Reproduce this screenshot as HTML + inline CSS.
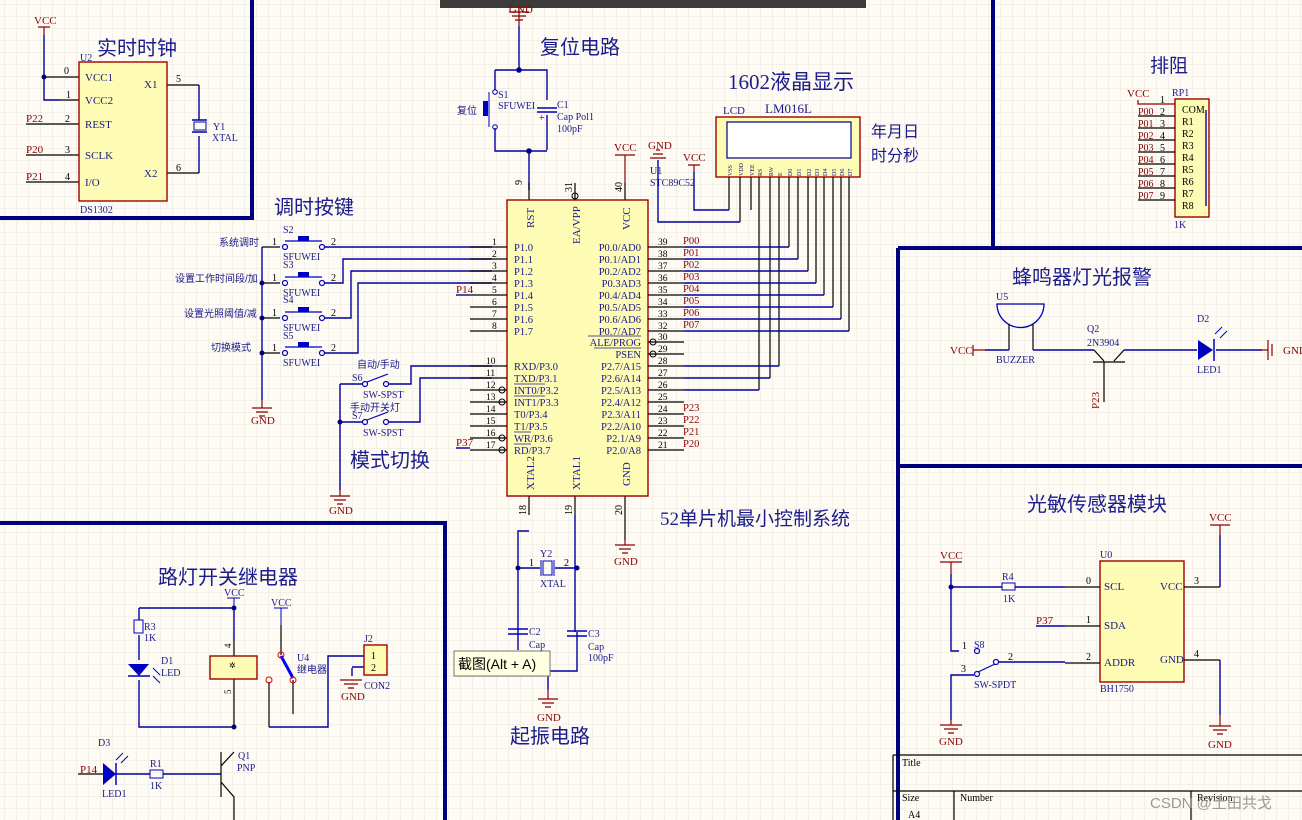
<!DOCTYPE html>
<html><head><meta charset="utf-8"><style>
html,body{margin:0;padding:0;background:#fdfbf4;}
svg{display:block;font-family:"Liberation Serif","Noto Serif CJK SC",serif;}
.t{fill:#1a1a8a;font-size:11px}
.s{fill:#1a1a8a;font-size:10px}
.r{fill:#8b0000;font-size:11px}
.h{fill:#1c1c8c;font-size:20px;font-family:"Liberation Serif","Noto Sans CJK SC",sans-serif}
.c{fill:#1a1a8a;font-size:10px;font-family:"Liberation Sans","Noto Sans CJK SC",sans-serif}
.k{fill:#000;font-size:10px}
.w{stroke:#0000a0;stroke-width:1.4;fill:none}
.b{stroke:#000;stroke-width:1.2;fill:none}
.p{stroke:#8b0000;stroke-width:1.2;fill:none}
.f{stroke:#00007f;stroke-width:4;fill:none}
.box{fill:#fdfbb4;stroke:#a00000;stroke-width:1.4}
</style></head><body>
<svg width="1302" height="820" viewBox="0 0 1302 820" xmlns="http://www.w3.org/2000/svg">
<defs>
<pattern id="g" x="5" y="5" width="12" height="12" patternUnits="userSpaceOnUse">
<path d="M12 0V12M0 12H12" stroke="#e6e4dc" stroke-width="1" fill="none"/></pattern>
</defs>
<rect width="1302" height="820" fill="#fdfbf4"/>
<rect width="1302" height="820" fill="url(#g)"/>
<rect x="440" y="0" width="426" height="8" fill="#3b3b3b"/>

<!-- frames -->
<path class="f" d="M252 0V218H0"/>
<path class="f" d="M993 0V248M898 248H1302M898 248V820M898 466H1302"/>
<path class="f" d="M0 523H445V820"/>
<path d="M893 755H1302M893 791H1302M893 755V820M954 791V820M1191 791V820" stroke="#000" stroke-width="1.2" fill="none"/>
<text x="902" y="766" class="k">Title</text><text x="902" y="801" class="k">Size</text>
<text x="908" y="818" class="k">A4</text><text x="960" y="801" class="k">Number</text>
<text x="1197" y="801" class="k">Revision</text>
<text x="1150" y="808" fill="#999" style="font-size:15px;font-family:'Liberation Sans','Noto Sans CJK SC',sans-serif">CSDN @土田共戈</text>

<!-- DS1302 -->
<text x="97" y="55" class="h">实时时钟</text>
<text x="34" y="24" class="r">VCC</text><path class="p" d="M38 27H50M44 27V35"/>
<path class="w" d="M44 35V100H60"/><circle cx="44" cy="77" r="2.5" fill="#00008b"/>
<path class="b" d="M44 77H79M60 100H79M26 124H79M26 155H79M26 182H79M167 85H199M167 173H199"/>
<path class="w" d="M199 85V120M199 136V173"/>
<rect x="194" y="122" width="12" height="8" fill="none" stroke="#0000a0"/><path class="w" d="M192 120H207M192 132H207"/>
<rect x="79" y="62" width="88" height="139" class="box"/>
<text x="80" y="61" class="s">U2</text><text x="80" y="213" class="s">DS1302</text>
<text x="85" y="81" class="t">VCC1</text><text x="85" y="104" class="t">VCC2</text><text x="85" y="128" class="t">REST</text><text x="85" y="159" class="t">SCLK</text><text x="85" y="186" class="t">I/O</text>
<text x="144" y="88" class="t">X1</text><text x="144" y="177" class="t">X2</text>
<text x="64" y="74" class="k">0</text><text x="66" y="98" class="k">1</text><text x="65" y="122" class="k">2</text><text x="65" y="153" class="k">3</text><text x="65" y="180" class="k">4</text>
<text x="176" y="82" class="k">5</text><text x="176" y="171" class="k">6</text>
<text x="26" y="122" class="r">P22</text><text x="26" y="153" class="r">P20</text><text x="26" y="180" class="r">P21</text>
<text x="213" y="130" class="s">Y1</text><text x="212" y="141" class="s">XTAL</text>

<!-- buttons -->
<text x="274" y="214" class="h">调时按键</text>
<path class="w" d="M262 247V400"/>
<g fill="#00008b"><circle cx="262" cy="283" r="2.5"/><circle cx="262" cy="318" r="2.5"/><circle cx="262" cy="353" r="2.5"/></g>
<path class="b" d="M262 247H280M262 283H280M262 318H280M262 353H280"/>
<g fill="none" stroke="#0000c0" stroke-width="1.2">
<circle cx="285" cy="247" r="2.5"/><circle cx="322" cy="247" r="2.5"/>
<circle cx="285" cy="283" r="2.5"/><circle cx="322" cy="283" r="2.5"/>
<circle cx="285" cy="318" r="2.5"/><circle cx="322" cy="318" r="2.5"/>
<circle cx="285" cy="353" r="2.5"/><circle cx="322" cy="353" r="2.5"/>
<path d="M285 241H322M285 277H322M285 312H322M285 347H322"/></g>
<g fill="#0000c0"><rect x="298" y="236" width="11" height="5"/><rect x="298" y="272" width="11" height="5"/><rect x="298" y="307" width="11" height="5"/><rect x="298" y="342" width="11" height="5"/></g>
<text x="283" y="233" class="s">S2</text><text x="283" y="260" class="s">SFUWEI</text>
<text x="283" y="268" class="s">S3</text><text x="283" y="296" class="s">SFUWEI</text>
<text x="283" y="303" class="s">S4</text><text x="283" y="331" class="s">SFUWEI</text>
<text x="283" y="339" class="s">S5</text><text x="283" y="366" class="s">SFUWEI</text>
<text x="272" y="245" class="k">1</text><text x="272" y="281" class="k">1</text><text x="272" y="316" class="k">1</text><text x="272" y="351" class="k">1</text>
<text x="331" y="245" class="k">2</text><text x="331" y="281" class="k">2</text><text x="331" y="316" class="k">2</text><text x="331" y="351" class="k">2</text>
<text x="219" y="246" class="c">系统调时</text><text x="175" y="282" class="c">设置工作时间段/加</text><text x="184" y="317" class="c">设置光照阈值/减</text><text x="211" y="351" class="c">切换模式</text>
<path class="w" d="M325 247H492M325 283H343V259H492M325 318H351V271H492M325 353H358V283H492"/>
<path class="p" d="M262 400V408M252 408H272M256 412H268M259 416H265"/><text x="251" y="424" class="r">GND</text>

<!-- mode switches -->
<path class="w" d="M340 384V490M340 384H362M340 422H362"/><circle cx="340" cy="422" r="2.5" fill="#00008b"/>
<g fill="none" stroke="#0000c0" stroke-width="1.2"><circle cx="365" cy="384" r="2.5"/><circle cx="386" cy="384" r="2.5"/><circle cx="365" cy="422" r="2.5"/><circle cx="386" cy="422" r="2.5"/><path d="M367 382L388 374M367 420L388 412"/></g>
<path class="w" d="M389 384H411V366H492M389 422H420V378H492"/>
<text x="352" y="381" class="s">S6</text><text x="363" y="398" class="s">SW-SPST</text><text x="357" y="368" class="c">自动/手动</text>
<text x="352" y="419" class="s">S7</text><text x="363" y="436" class="s">SW-SPST</text><text x="350" y="411" class="c">手动开关灯</text>
<text x="350" y="467" class="h">模式切换</text>
<path class="p" d="M340 490V496M330 496H350M334 500H346M337 504H343"/><text x="329" y="514" class="r">GND</text>

<!-- reset -->
<path class="p" d="M519 8V26M509 12H529M512 16H526M515 20H523"/><text x="509" y="13" class="r">GND</text>
<text x="540" y="54" class="h">复位电路</text>
<path class="w" d="M519 26V70M495 70H547V100M547 115V150M495 70V90M495 128V151H547M529 151V190"/>
<circle cx="519" cy="70" r="2.8" fill="#00008b"/><circle cx="529" cy="151" r="2.8" fill="#00008b"/>
<path d="M537 108H557M537 112H557" stroke="#0000c0" stroke-width="1.4"/>
<rect x="483" y="101" width="5" height="15" fill="#0000c0"/><path d="M489 92V127" stroke="#0000c0"/>
<g fill="none" stroke="#0000c0"><circle cx="495" cy="92" r="2.3"/><circle cx="495" cy="127" r="2.3"/></g>
<text x="498" y="98" class="s">S1</text><text x="498" y="109" class="s">SFUWEI</text><text x="457" y="114" class="c">复位</text>
<text x="557" y="108" class="s">C1</text><text x="557" y="120" class="s">Cap Pol1</text><text x="557" y="132" class="s">100pF</text>
<text x="539" y="121" fill="#0000c0" style="font-size:10px">+</text>

<!-- MCU -->
<path class="p" d="M625 155V183M615 155H635"/><text x="614" y="151" class="r">VCC</text>
<path class="b" d="M529 183V200M575 183V200M625 183V200M529 496V515M575 496V515M625 496V540"/>
<rect x="507" y="200" width="141" height="296" class="box"/>
<text x="522" y="185" class="k" transform="rotate(-90 522 185)">9</text>
<text x="572" y="192" class="k" transform="rotate(-90 572 192)">31</text>
<text x="622" y="192" class="k" transform="rotate(-90 622 192)">40</text>
<text x="526" y="515" class="k" transform="rotate(-90 526 515)">18</text>
<text x="572" y="515" class="k" transform="rotate(-90 572 515)">19</text>
<text x="622" y="515" class="k" transform="rotate(-90 622 515)">20</text>
<g class="t">
<text x="534" y="228" transform="rotate(-90 534 228)">RST</text>
<text x="580" y="244" transform="rotate(-90 580 244)">EA/VPP</text>
<text x="630" y="230" transform="rotate(-90 630 230)">VCC</text>
<text x="534" y="490" transform="rotate(-90 534 490)">XTAL2</text>
<text x="580" y="490" transform="rotate(-90 580 490)">XTAL1</text>
<text x="630" y="486" transform="rotate(-90 630 486)">GND</text>
</g>
<g fill="#1a1a8a" style="font-size:10.5px">
<text x="514" y="251">P1.0</text><text x="514" y="263">P1.1</text><text x="514" y="275">P1.2</text><text x="514" y="287">P1.3</text><text x="514" y="299">P1.4</text><text x="514" y="311">P1.5</text><text x="514" y="323">P1.6</text><text x="514" y="335">P1.7</text>
<text x="514" y="370">RXD/P3.0</text><text x="514" y="382">TXD/P3.1</text><text x="514" y="394">INT0/P3.2</text><text x="514" y="406">INT1/P3.3</text><text x="514" y="418">T0/P3.4</text><text x="514" y="430">T1/P3.5</text><text x="514" y="442">WR/P3.6</text><text x="514" y="454">RD/P3.7</text>
<g text-anchor="end">
<text x="641" y="251">P0.0/AD0</text><text x="641" y="263">P0.1/AD1</text><text x="641" y="275">P0.2/AD2</text><text x="641" y="287">P0.3AD3</text><text x="641" y="299">P0.4/AD4</text><text x="641" y="311">P0.5/AD5</text><text x="641" y="323">P0.6/AD6</text><text x="641" y="335">P0.7/AD7</text>
<text x="641" y="346">ALE/PROG</text><text x="641" y="358">PSEN</text>
<text x="641" y="370">P2.7/A15</text><text x="641" y="382">P2.6/A14</text><text x="641" y="394">P2.5/A13</text><text x="641" y="406">P2.4/A12</text><text x="641" y="418">P2.3/A11</text><text x="641" y="430">P2.2/A10</text><text x="641" y="442">P2.1/A9</text><text x="641" y="454">P2.0/A8</text>
</g></g>
<path d="M514 384H545M514 396H545M514 432H531M514 444H531M588 336H641M594 348H641" stroke="#1a1a8a" stroke-width="0.8"/>
<path class="b" d="M470 247H507M470 259H507M470 271H507M470 283H507M470 295H507M470 307H507M470 319H507M470 331H507M470 366H507M470 378H507M470 390H507M470 402H507M470 414H507M470 426H507M470 438H507M470 450H507"/>
<path class="b" d="M648 247H684M648 259H684M648 271H684M648 283H684M648 295H684M648 307H684M648 319H684M648 331H684M648 342H684M648 354H684M648 366H684M648 378H684M648 390H684M648 402H684M648 414H684M648 426H684M648 438H684M648 450H684"/>
<g fill="none" stroke="#000" stroke-width="1"><circle cx="502" cy="390" r="3"/><circle cx="502" cy="402" r="3"/><circle cx="502" cy="438" r="3"/><circle cx="502" cy="450" r="3"/><circle cx="653" cy="342" r="3"/><circle cx="653" cy="354" r="3"/><circle cx="575" cy="196" r="3"/></g>
<g fill="#000" style="font-size:9.5px"><text x="492" y="245">1</text><text x="492" y="257">2</text><text x="492" y="269">3</text><text x="492" y="281">4</text><text x="492" y="293">5</text><text x="492" y="305">6</text><text x="492" y="317">7</text><text x="492" y="329">8</text>
<text x="486" y="364">10</text><text x="486" y="376">11</text><text x="486" y="388">12</text><text x="486" y="400">13</text><text x="486" y="412">14</text><text x="486" y="424">15</text><text x="486" y="436">16</text><text x="486" y="448">17</text>
<text x="658" y="245">39</text><text x="658" y="257">38</text><text x="658" y="269">37</text><text x="658" y="281">36</text><text x="658" y="293">35</text><text x="658" y="305">34</text><text x="658" y="317">33</text><text x="658" y="329">32</text><text x="658" y="340">30</text><text x="658" y="352">29</text><text x="658" y="364">28</text><text x="658" y="376">27</text><text x="658" y="388">26</text><text x="658" y="400">25</text><text x="658" y="412">24</text><text x="658" y="424">23</text><text x="658" y="436">22</text><text x="658" y="448">21</text></g>
<text x="456" y="293" class="r">P14</text><path class="w" d="M456 295H470"/>
<text x="456" y="446" class="r">P37</text><path class="w" d="M456 448H470"/>
<g fill="#8b0000" style="font-size:10.5px"><text x="683" y="244">P00</text><text x="683" y="256">P01</text><text x="683" y="268">P02</text><text x="683" y="280">P03</text><text x="683" y="292">P04</text><text x="683" y="304">P05</text><text x="683" y="316">P06</text><text x="683" y="328">P07</text>
<text x="683" y="411">P23</text><text x="683" y="423">P22</text><text x="683" y="435">P21</text><text x="683" y="447">P20</text></g>
<text x="650" y="174" class="s">U1</text><text x="650" y="186" class="s">STC89C52</text>
<text x="660" y="525" class="h" style="font-size:19px">52单片机最小控制系统</text>

<!-- LCD -->
<text x="728" y="89" class="h" style="font-size:21px">1602液晶显示</text>
<text x="723" y="114" class="s" style="font-size:11px">LCD</text><text x="765" y="113" class="t" style="font-size:13px">LM016L</text>
<rect x="716" y="117" width="144" height="60" class="box"/>
<rect x="727" y="122" width="124" height="36" fill="#fff" stroke="#00008b" stroke-width="1.2"/>
<g fill="#1a1a8a" style="font-size:6px"><text x="732" y="176" transform="rotate(-90 732 176)">VSS</text><text x="743" y="176" transform="rotate(-90 743 176)">VDD</text><text x="754" y="176" transform="rotate(-90 754 176)">VEE</text><text x="762" y="176" transform="rotate(-90 762 176)">RS</text><text x="773" y="176" transform="rotate(-90 773 176)">RW</text><text x="782" y="176" transform="rotate(-90 782 176)">E</text><text x="792" y="176" transform="rotate(-90 792 176)">D0</text><text x="801" y="176" transform="rotate(-90 801 176)">D1</text><text x="811" y="176" transform="rotate(-90 811 176)">D2</text><text x="819" y="176" transform="rotate(-90 819 176)">D3</text><text x="827" y="176" transform="rotate(-90 827 176)">D4</text><text x="836" y="176" transform="rotate(-90 836 176)">D5</text><text x="844" y="176" transform="rotate(-90 844 176)">D6</text><text x="852" y="176" transform="rotate(-90 852 176)">D7</text></g>
<path class="b" d="M729 177V210M740 177V222M751 177V210M759 177V390M770 177V378M779 177V366M789 177V247M798 177V259M808 177V271M816 177V283M824 177V295M833 177V307M841 177V319M849 177V331"/>
<path class="w" d="M684 247H789M684 259H798M684 271H808M684 283H816M684 295H824M684 307H833M684 319H841M684 331H849M684 366H779M684 378H770M684 390H759"/>
<path class="w" d="M694 172V210H729M658 160V222H740"/>
<path class="p" d="M688 165H700M694 165V172M650 158H666M653 154H663M656 150H660"/>
<text x="683" y="161" class="r">VCC</text><text x="648" y="149" class="r">GND</text>
<text x="871" y="137" class="c" style="font-size:16px">年月日</text><text x="871" y="161" class="c" style="font-size:16px">时分秒</text>

<!-- RP1 -->
<text x="1150" y="72" class="h" style="font-size:19px">排阻</text>
<text x="1127" y="97" class="r">VCC</text><path class="p" d="M1138 100V104H1175"/>
<text x="1172" y="96" class="s">RP1</text><text x="1174" y="228" class="s">1K</text>
<rect x="1175" y="99" width="34" height="118" class="box"/>
<path class="b" d="M1138 116H1175M1138 128H1175M1138 140H1175M1138 152H1175M1138 164H1175M1138 176H1175M1138 188H1175M1138 200H1175"/>
<g fill="#000" style="font-size:10px"><text x="1160" y="103">1</text><text x="1160" y="115">2</text><text x="1160" y="127">3</text><text x="1160" y="139">4</text><text x="1160" y="151">5</text><text x="1160" y="163">6</text><text x="1160" y="175">7</text><text x="1160" y="187">8</text><text x="1160" y="199">9</text></g>
<g fill="#8b0000" style="font-size:10px"><text x="1138" y="115">P00</text><text x="1138" y="127">P01</text><text x="1138" y="139">P02</text><text x="1138" y="151">P03</text><text x="1138" y="163">P04</text><text x="1138" y="175">P05</text><text x="1138" y="187">P06</text><text x="1138" y="199">P07</text></g>
<g fill="#000" style="font-size:10px"><text x="1182" y="113">COM</text><text x="1182" y="125">R1</text><text x="1182" y="137">R2</text><text x="1182" y="149">R3</text><text x="1182" y="161">R4</text><text x="1182" y="173">R5</text><text x="1182" y="185">R6</text><text x="1182" y="197">R7</text><text x="1182" y="209">R8</text></g>
<path d="M1206 110V206" stroke="#0000c0" stroke-width="1.4"/>

<!-- buzzer -->
<text x="1012" y="284" class="h" style="font-size:20px">蜂鸣器灯光报警</text>
<text x="996" y="300" class="s">U5</text>
<path d="M997 304H1044A23 23 0 0 1 997 304Z" fill="none" stroke="#0000c0" stroke-width="1.3"/>
<path class="b" d="M1009 324V350M1033 324V350"/>
<text x="950" y="354" class="r">VCC</text><path class="p" d="M973 345V356M973 350H985"/>
<path class="w" d="M985 350H1009M1033 350H1094"/>
<text x="996" y="363" class="s">BUZZER</text>
<text x="1087" y="332" class="s">Q2</text><text x="1087" y="346" class="s">2N3904</text>
<path class="b" d="M1094 350L1104 361M1114 361L1124 350M1093 362H1125M1104 362V402"/>
<path class="w" d="M1124 350H1197M1216 350H1262"/>
<path d="M1198 340V360L1213 350Z" fill="#0000c0"/><path d="M1214 339V361" stroke="#0000c0" stroke-width="1.5"/>
<path d="M1215 334L1222 327M1220 338L1227 331" stroke="#0000c0"/>
<text x="1197" y="322" class="s">D2</text><text x="1197" y="373" class="s">LED1</text>
<path class="p" d="M1262 350H1268M1268 340V360M1272 344V356"/><text x="1283" y="354" class="r">GND</text>
<text x="1099" y="409" class="r" transform="rotate(-90 1099 409)">P23</text>

<!-- light sensor -->
<text x="1027" y="511" class="h" style="font-size:20px">光敏传感器模块</text>
<text x="1100" y="558" class="s">U0</text>
<rect x="1100" y="561" width="84" height="121" class="box"/>
<text x="1104" y="590" class="t">SCL</text><text x="1104" y="629" class="t">SDA</text><text x="1104" y="666" class="t">ADDR</text>
<text x="1160" y="590" class="t">VCC</text><text x="1160" y="663" class="t">GND</text>
<text x="1100" y="692" class="s">BH1750</text>
<text x="940" y="559" class="r">VCC</text><path class="p" d="M940 562H962M951 562V574"/>
<path class="w" d="M951 574V651H959M951 587H1002M1015 587H1065"/><circle cx="951" cy="587" r="2.5" fill="#00008b"/>
<rect x="1002" y="583" width="13" height="7" fill="none" stroke="#0000c0"/>
<text x="1002" y="580" class="s">R4</text><text x="1003" y="602" class="s">1K</text>
<path class="b" d="M1065 587H1100M1065 626H1100M1065 663H1100M1184 587H1220M1184 660H1220"/>
<text x="1086" y="584" class="k">0</text><text x="1086" y="623" class="k">1</text><text x="1086" y="660" class="k">2</text><text x="1194" y="584" class="k">3</text><text x="1194" y="657" class="k">4</text>
<text x="1036" y="624" class="r">P37</text><path class="w" d="M1036 626H1065"/>
<g fill="none" stroke="#0000c0" stroke-width="1.2"><circle cx="977" cy="651" r="2.5"/><circle cx="996" cy="662" r="2.5"/><circle cx="977" cy="674" r="2.5"/><path d="M978 672L995 664"/></g>
<path class="w" d="M999 662H1065M974 675H951V720"/>
<text x="974" y="648" class="s">S8</text><text x="962" y="649" class="k">1</text><text x="961" y="672" class="k">3</text><text x="1008" y="660" class="k">2</text>
<text x="974" y="688" class="s">SW-SPDT</text>
<path class="p" d="M951 720V725M940 725H962M944 729H958M948 733H954"/><text x="939" y="745" class="r">GND</text>
<path class="p" d="M1210 525H1230M1220 525V535"/><text x="1209" y="521" class="r">VCC</text>
<path class="w" d="M1220 535V587M1220 660V715"/>
<path class="p" d="M1220 715V726M1209 726H1231M1213 730H1227M1217 734H1223"/><text x="1208" y="748" class="r">GND</text>

<!-- oscillator -->
<path class="w" d="M529 531H518V650M518 568H540M555 568H577M575 515V568V632M577 632V671H548V690"/>
<circle cx="518" cy="568" r="2.5" fill="#00008b"/><circle cx="577" cy="568" r="2.5" fill="#00008b"/>
<rect x="543" y="561" width="9" height="14" fill="none" stroke="#0000c0"/><path d="M541 560V576M554 560V576" stroke="#0000c0"/>
<text x="540" y="557" class="s">Y2</text><text x="540" y="587" class="s">XTAL</text><text x="529" y="566" class="k">1</text><text x="564" y="566" class="k">2</text>
<path d="M508 629H528M508 634H528M567 631H587M567 636H587" stroke="#0000c0" stroke-width="1.4"/>
<text x="529" y="635" class="s">C2</text><text x="529" y="648" class="s">Cap</text>
<text x="588" y="637" class="s">C3</text><text x="588" y="650" class="s">Cap</text><text x="588" y="661" class="s">100pF</text>
<path class="p" d="M548 690V699M538 699H558M542 703H554M545 707H551"/><text x="537" y="721" class="r">GND</text>
<path class="p" d="M625 540V545M615 545H635M619 549H631M622 553H628"/><text x="614" y="565" class="r">GND</text>
<rect x="454" y="651" width="96" height="25" fill="#ffffe1" stroke="#777"/>
<text x="458" y="669" fill="#000" style="font-size:14px;font-family:'Liberation Sans','Noto Sans CJK SC',sans-serif">截图(Alt + A)</text>
<text x="510" y="743" class="h">起振电路</text>

<!-- relay -->
<text x="158" y="584" class="h" style="font-size:20px">路灯开关继电器</text>
<text x="224" y="596" class="s" fill="#0000c0">VCC</text><path d="M227 598H240M234 598V608" stroke="#0000c0"/>
<path class="w" d="M139 608H234V640M139 608V620M139 635V660M139 680V727H234"/>
<circle cx="234" cy="608" r="2.5" fill="#00008b"/><circle cx="234" cy="727" r="2.5" fill="#00008b"/>
<rect x="134" y="620" width="9" height="13" fill="none" stroke="#0000c0"/>
<text x="144" y="630" class="s">R3</text><text x="144" y="641" class="s">1K</text>
<path d="M128 664H149L139 676Z" fill="#0000c0"/><path d="M128 676H150" stroke="#0000c0" stroke-width="1.5"/>
<path d="M153 668L160 675M153 676L160 683" stroke="#0000c0"/>
<text x="161" y="664" class="s">D1</text><text x="161" y="676" class="s">LED</text>
<path class="b" d="M234 640V659M234 679V727"/>
<rect x="210" y="656" width="47" height="23" class="box"/>
<text x="229" y="668" fill="#000" style="font-size:8px">✲</text>
<text x="231" y="648" fill="#000" style="font-size:9px" transform="rotate(-90 231 648)">4</text>
<text x="231" y="694" fill="#000" style="font-size:9px" transform="rotate(-90 231 694)">5</text>
<text x="271" y="606" class="s" fill="#0000c0">VCC</text><path d="M274 608H288M281 608V625" stroke="#0000c0"/>
<path class="b" d="M281 625V655M293 680V714M269 682V727"/>
<path d="M281 656L293 678" stroke="#0000ff" stroke-width="3"/>
<g fill="none" stroke="#e00000"><circle cx="281" cy="655" r="3"/><circle cx="293" cy="680" r="3"/><circle cx="269" cy="680" r="3"/></g>
<text x="297" y="661" class="s">U4</text><text x="297" y="673" class="c">继电器</text>
<path class="w" d="M269 727H328V656H364M352 668V676M364 667H352"/>
<rect x="364" y="645" width="23" height="30" class="box"/>
<text x="371" y="659" class="k">1</text><text x="371" y="671" class="k">2</text>
<text x="364" y="642" class="s">J2</text><text x="364" y="689" class="s">CON2</text>
<path class="p" d="M340 680H362M344 684H358M348 688H354"/><text x="341" y="700" class="r">GND</text>
<text x="98" y="746" class="s">D3</text>
<text x="80" y="773" class="r">P14</text><path class="b" d="M78 774H103"/>
<path d="M103 763V785L116 774Z" fill="#0000c0"/><path d="M116 763V785" stroke="#0000c0" stroke-width="1.5"/>
<path d="M116 760L123 753M121 763L128 756" stroke="#0000c0"/>
<path class="w" d="M116 774H150M163 774H221"/>
<rect x="150" y="770" width="13" height="8" fill="none" stroke="#0000c0"/>
<text x="150" y="767" class="s">R1</text><text x="150" y="789" class="s">1K</text>
<text x="102" y="797" class="s">LED1</text>
<path class="b" d="M221 752V797M221 766L234 752M221 782L234 797V820"/>
<text x="238" y="759" class="s">Q1</text><text x="237" y="771" class="s">PNP</text>
</svg>
</body></html>
